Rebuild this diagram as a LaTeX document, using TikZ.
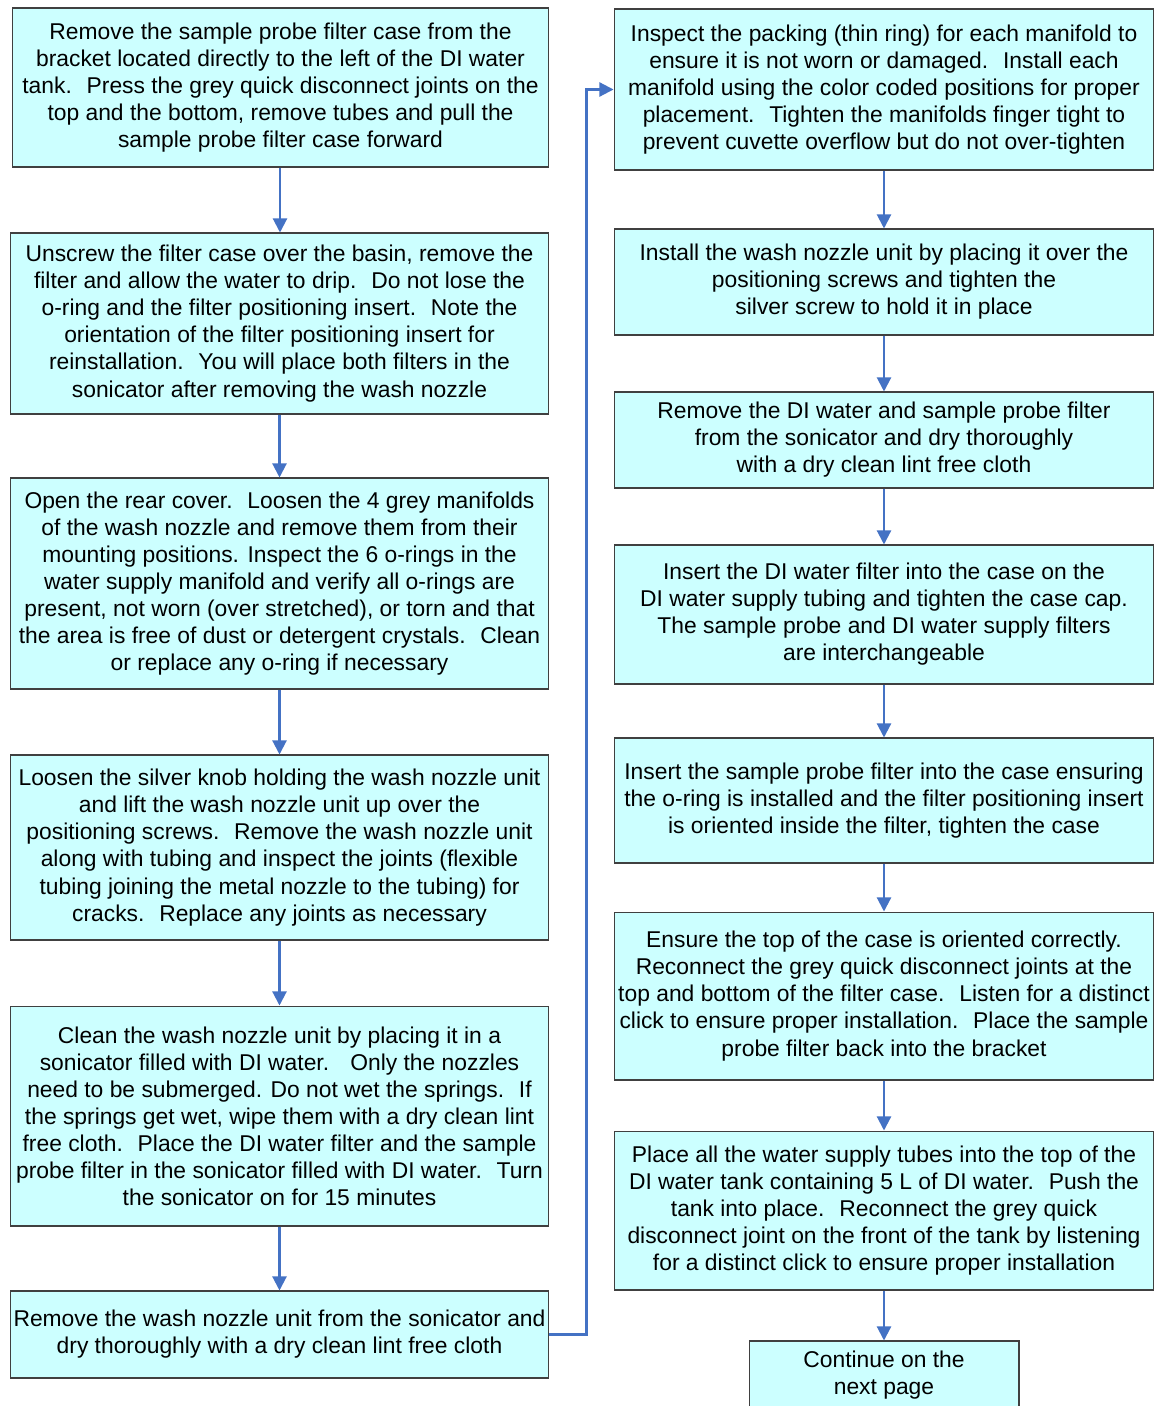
\documentclass[tikz,border=0pt]{standalone}
\usepackage{fontspec}
\setmainfont{Liberation Sans}
\usetikzlibrary{arrows.meta}

\definecolor{boxfill}{RGB}{204,255,255}
\definecolor{flowblue}{RGB}{68,114,196}
\tikzset{
  stepbox/.style={draw=black!75, line width=0.6pt, fill=boxfill, align=center,
    inner sep=0pt, font=\fontsize{13}{15.4}\selectfont},
  flow/.style={flowblue, line width=1.2pt, -{Triangle[width=8pt,length=8pt]}}
}

\begin{document}
\begin{tikzpicture}[x=0.02cm, y=-0.02cm]
\useasboundingbox (0,0) rectangle (1156,1406);
\clip (0,0) rectangle (1156,1406);
% left column
\node[stepbox, minimum width=10.74cm, minimum height=3.18cm] (l1) at (280.5, 87.5){Remove the sample probe filter case from the\\bracket located directly to the left of the DI water\\tank.~ Press the grey quick disconnect joints on the\\top and the bottom, remove tubes and pull the\\sample probe filter case forward};
\node[stepbox, minimum width=10.78cm, minimum height=3.62cm] (l2) at (279.5, 323.5){Unscrew the filter case over the basin, remove the\\filter and allow the water to drip.~ Do not lose the\\o-ring and the filter positioning insert.~ Note the\\orientation of the filter positioning insert for\\reinstallation.~ You will place both filters in the\\sonicator after removing the wash nozzle};
\node[stepbox, minimum width=10.78cm, minimum height=4.22cm] (l3) at (279.5, 583.5){Open the rear cover.~ Loosen the 4 grey manifolds\\of the wash nozzle and remove them from their\\mounting positions. Inspect the 6 o-rings in the\\water supply manifold and verify all o-rings are\\present, not worn (over stretched), or torn and that\\the area is free of dust or detergent crystals.~ Clean\\or replace any o-ring if necessary};
\node[stepbox, minimum width=10.78cm, minimum height=3.70cm] (l4) at (279.5, 847.5){Loosen the silver knob holding the wash nozzle unit\\and lift the wash nozzle unit up over the\\positioning screws.~ Remove the wash nozzle unit\\along with tubing and inspect the joints (flexible\\tubing joining the metal nozzle to the tubing) for\\cracks.~ Replace any joints as necessary};
\node[stepbox, minimum width=10.78cm, minimum height=4.40cm] (l5) at (279.5, 1116){Clean the wash nozzle unit by placing it in a\\sonicator filled with DI water.~~ Only the nozzles\\need to be submerged. Do not wet the springs.~ If\\the springs get wet, wipe them with a dry clean lint\\free cloth.~ Place the DI water filter and the sample\\probe filter in the sonicator filled with DI water.~ Turn\\the sonicator on for 15 minutes};
\node[stepbox, minimum width=10.78cm, minimum height=1.74cm] (l6) at (279.5, 1334.5){Remove the wash nozzle unit from the sonicator and\\dry thoroughly with a dry clean lint free cloth};
% right column
\node[stepbox, minimum width=10.80cm, minimum height=3.22cm] (r1) at (884, 89.5){Inspect the packing (thin ring) for each manifold to\\ensure it is not worn or damaged.~ Install each\\manifold using the color coded positions for proper\\placement.~ Tighten the manifolds finger tight to\\prevent cuvette overflow but do not over-tighten};
\node[stepbox, minimum width=10.80cm, minimum height=2.12cm] (r2) at (884, 282){Install the wash nozzle unit by placing it over the\\positioning screws and tighten the\\silver screw to hold it in place};
\node[stepbox, minimum width=10.80cm, minimum height=1.92cm] (r3) at (884, 440){Remove the DI water and sample probe filter\\from the sonicator and dry thoroughly\\with a dry clean lint free cloth};
\node[stepbox, minimum width=10.80cm, minimum height=2.78cm] (r4) at (884, 614.5){Insert the DI water filter into the case on the\\DI water supply tubing and tighten the case cap.\\The sample probe and DI water supply filters\\are interchangeable};
\node[stepbox, minimum width=10.78cm, minimum height=2.50cm] (r5) at (884, 800.5){Insert the sample probe filter into the case ensuring\\the o-ring is installed and the filter positioning insert\\is oriented inside the filter, tighten the case};
\node[stepbox, minimum width=10.80cm, minimum height=3.36cm] (r6) at (884, 996){Ensure the top of the case is oriented correctly.\\Reconnect the grey quick disconnect joints at the\\top and bottom of the filter case.~ Listen for a distinct\\click to ensure proper installation.~ Place the sample\\probe filter back into the bracket};
\node[stepbox, minimum width=10.80cm, minimum height=3.18cm] (r7) at (884, 1210.5){Place all the water supply tubes into the top of the\\DI water tank containing 5 L of DI water.~ Push the\\tank into place.~ Reconnect the grey quick\\disconnect joint on the front of the tank by listening\\for a distinct click to ensure proper installation};
\node[stepbox, minimum width=5.40cm, minimum height=1.36cm] (r8) at (884, 1375){Continue on the\\next page};
% connectors
\draw[flow] (l1.south -| 280,0) -- (l2.north -| 280,0);
\draw[flow] (l2) -- (l3);
\draw[flow] (l3) -- (l4);
\draw[flow] (l4) -- (l5);
\draw[flow] (l5) -- (l6);
\draw[flow] (l6.east) -- ++(37,0) |- (r1.west);
\draw[flow] (r1) -- (r2);
\draw[flow] (r2) -- (r3);
\draw[flow] (r3) -- (r4);
\draw[flow] (r4) -- (r5);
\draw[flow] (r5) -- (r6);
\draw[flow] (r6) -- (r7);
\draw[flow] (r7) -- (r8);
\end{tikzpicture}
\end{document}
